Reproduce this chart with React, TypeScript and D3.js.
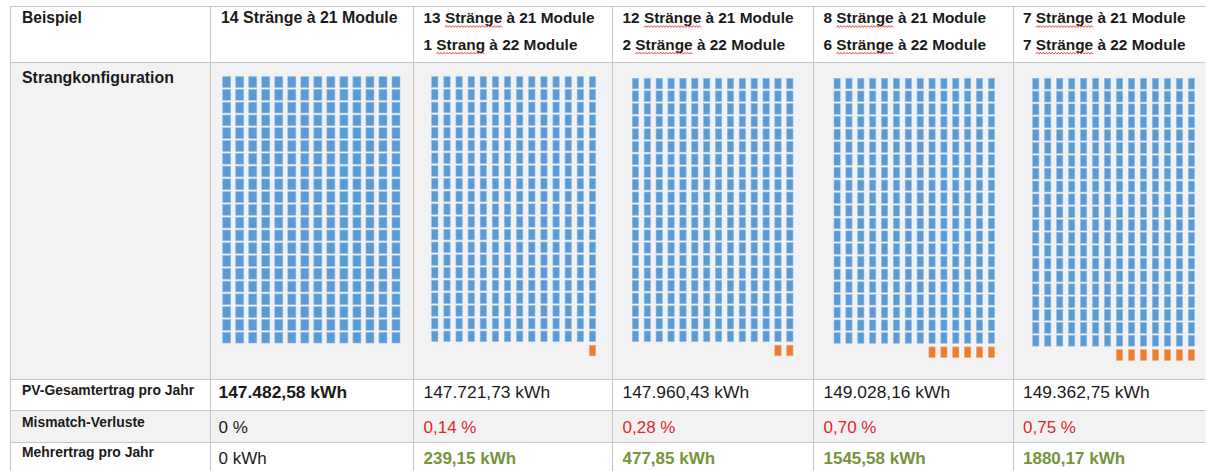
import React, { useEffect, useRef } from "react";
import * as d3 from "d3";

// ---------- data ----------
const rowLabels = [
  "Beispiel",
  "Strangkonfiguration",
  "PV-Gesamtertrag pro Jahr",
  "Mismatch-Verluste",
  "Mehrertrag pro Jahr",
];
const strings21 = [14, 13, 12, 8, 7];
const strings22 = [0, 1, 2, 6, 7];
const modulesShort = 21;
const modulesLong = 22;
const annualYield = [147482.58, 147721.73, 147960.43, 149028.16, 149362.75];
const mismatchLoss = [0, 0.14, 0.28, 0.7, 0.75];
const extraYield = [0, 239.15, 477.85, 1545.58, 1880.17];

// ---------- layout ----------
const W = 1206;
const H = 471;
const colEdges = [10, 210, 413, 612, 813, 1013, 1205.5];
const rowEdges = [6.5, 62.5, 379.5, 410.5, 442.5, 471];
const rowFill = ["#ffffff", "#f2f2f2", "#ffffff", "#f2f2f2", "#ffffff"];
const textX = [221, 423.5, 622.5, 823.5, 1023];
const valueX = [218.5, 423.5, 622.5, 823.5, 1023];
const gridGeom = [
  { x0: 222.7, x1: 392, y0: 76.7, p: 12.78, w: 8, h: 10.7 },
  { x0: 431.7, x1: 589.3, y0: 76.7, p: 12.72, w: 6.3, h: 10.5 },
  { x0: 632.3, x1: 786.7, y0: 78.3, p: 12.64, w: 6.3, h: 10.5 },
  { x0: 834, x1: 988.3, y0: 78.3, p: 12.72, w: 6.2, h: 10.5 },
  { x0: 1032.7, x1: 1188.3, y0: 78.3, p: 12.85, w: 6.2, h: 10.8 },
];
const FONT = "'Liberation Sans', Arial, Helvetica, sans-serif";
const BLUE = "#5b9bd5";
const ORANGE = "#ed7d31";
const RED = "#e3262c";
const GREEN = "#77933c";
const BORDER = "#c6c6c6";

const de = d3.formatLocale({ decimal: ",", thousands: ".", grouping: [3], currency: ["", " €"] });
const fmtYield = de.format(",.2f");
const fmt2 = de.format(".2f");

export default function App() {
  const ref = useRef<SVGSVGElement | null>(null);

  useEffect(() => {
    const svg = d3.select(ref.current);
    svg.selectAll("*").remove();

    svg.append("rect").attr("width", W).attr("height", H).attr("fill", "#ffffff");

    // row backgrounds
    rowFill.forEach((f, r) => {
      svg
        .append("rect")
        .attr("x", colEdges[0])
        .attr("y", rowEdges[r])
        .attr("width", colEdges[colEdges.length - 1] - colEdges[0])
        .attr("height", rowEdges[r + 1] - rowEdges[r])
        .attr("fill", f);
    });

    // module grids
    strings21.forEach((n21, c) => {
      const g = gridGeom[c];
      const n = n21 + strings22[c];
      const x = d3.scaleLinear().domain([0, n - 1]).range([g.x0, g.x1]);
      const y = d3
        .scaleLinear()
        .domain([0, modulesShort - 1])
        .range([g.y0, g.y0 + (modulesShort - 1) * g.p]);
      const cells: { s: number; m: number; extra: boolean }[] = [];
      for (let s = 0; s < n; s++) {
        const count = s < n21 ? modulesShort : modulesLong;
        for (let m = 0; m < count; m++) cells.push({ s, m, extra: m >= modulesShort });
      }
      svg
        .append("g")
        .selectAll("rect")
        .data(cells)
        .join("rect")
        .attr("x", (d) => x(d.s))
        .attr("y", (d) => y(d.m) + (d.extra ? 1.5 : 0))
        .attr("width", g.w)
        .attr("height", g.h)
        .attr("fill", (d) => (d.extra ? ORANGE : BLUE))
        .attr("stroke", (d) => (d.extra ? "#f4a46e" : "#8fbbe6"))
        .attr("stroke-width", 0.6);
    });

    // borders
    const lines = svg.append("g").attr("stroke", BORDER).attr("stroke-width", 1);
    colEdges.forEach((cx) => {
      lines
        .append("line")
        .attr("x1", Math.round(cx) + 0.5)
        .attr("x2", Math.round(cx) + 0.5)
        .attr("y1", rowEdges[0])
        .attr("y2", H);
    });
    rowEdges.slice(0, -1).forEach((ry) => {
      lines
        .append("line")
        .attr("x1", colEdges[0])
        .attr("x2", colEdges[colEdges.length - 1])
        .attr("y1", ry)
        .attr("y2", ry);
    });

    // row labels
    const labelBase = [23.3, 83, 395, 426.5, 457];
    const labelSize = [15.6, 15.9, 13.9, 13.9, 13.9];
    rowLabels.forEach((t, r) => {
      svg
        .append("text")
        .attr("x", 22)
        .attr("y", labelBase[r])
        .attr("font-family", FONT)
        .attr("font-weight", "bold")
        .attr("font-size", labelSize[r])
        .attr("fill", "#1a1a1a")
        .text(t);
    });

    // header lines with spellcheck squiggles
    const squiggle = (x0: number, x1: number, yy: number) => {
      const pts: [number, number][] = [];
      let k = 0;
      for (let xx = x0; xx <= x1; xx += 1.5, k++) pts.push([xx, yy + (k % 2 ? -0.9 : 0.9)]);
      svg
        .append("path")
        .attr("d", d3.line()(pts) || "")
        .attr("fill", "none")
        .attr("stroke", "#e0393c")
        .attr("stroke-width", 0.9);
    };
    strings21.forEach((n21, c) => {
      const lines2: string[] = [];
      lines2.push(`${n21} ${n21 === 1 ? "Strang" : "Stränge"} à ${modulesShort} Module`);
      if (strings22[c] > 0)
        lines2.push(`${strings22[c]} ${strings22[c] === 1 ? "Strang" : "Stränge"} à ${modulesLong} Module`);
      lines2.forEach((t, li) => {
        const base = li === 0 ? 23.3 : 50;
        const txt = svg
          .append("text")
          .attr("x", textX[c])
          .attr("y", base)
          .attr("font-family", FONT)
          .attr("font-weight", "bold")
          .attr("font-size", c === 0 ? 15.9 : 15.4)
          .attr("fill", "#1a1a1a")
          .text(t);
        if (c >= 1) {
          const node = txt.node() as SVGTextElement;
          const i0 = t.indexOf("Str");
          const word = t.startsWith(`${strings22[c]} Strang `) || t.includes(" Strang ") ? "Strang" : "Stränge";
          const a = node.getSubStringLength(0, i0);
          const b = node.getSubStringLength(i0, word.length);
          squiggle(textX[c] + a, textX[c] + a + b, base + 3.2);
        }
      });
    });

    // value rows
    strings21.forEach((_, c) => {
      svg
        .append("text")
        .attr("x", valueX[c])
        .attr("y", 397.5)
        .attr("font-family", FONT)
        .attr("font-size", 17.4)
        .attr("font-weight", c === 0 ? "bold" : "normal")
        .attr("fill", "#1a1a1a")
        .text(`${fmtYield(annualYield[c])} kWh`);
      svg
        .append("text")
        .attr("x", valueX[c])
        .attr("y", 433)
        .attr("font-family", FONT)
        .attr("font-size", 17)
        .attr("fill", mismatchLoss[c] === 0 ? "#1a1a1a" : RED)
        .text(`${mismatchLoss[c] === 0 ? "0" : fmt2(mismatchLoss[c])} %`);
      svg
        .append("text")
        .attr("x", valueX[c])
        .attr("y", 464)
        .attr("font-family", FONT)
        .attr("font-size", 17)
        .attr("font-weight", extraYield[c] === 0 ? "normal" : "bold")
        .attr("fill", extraYield[c] === 0 ? "#1a1a1a" : GREEN)
        .text(`${extraYield[c] === 0 ? "0" : fmt2(extraYield[c])} kWh`);
    });
  }, []);

  return (
    <svg
      ref={ref}
      width={W}
      height={H}
      style={{ position: "absolute", left: 0, top: 0, display: "block" }}
    />
  );
}
